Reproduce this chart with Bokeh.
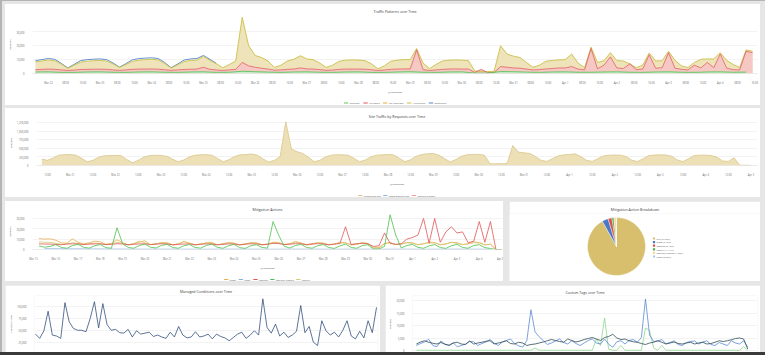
import numpy as np
from bokeh.plotting import figure
from bokeh.layouts import column, row
from bokeh.models import FixedTicker, NumeralTickFormatter, Range1d, Spacer, ColumnDataSource
from bokeh.core.properties import value
from bokeh.embed import file_html
from bokeh.resources import INLINE

FONT = "Open Sans"

# ---------------- Traffic Patterns over Time (hours from Mar 22 00:00) ----------------
traffic_start, traffic_step = -6, 3
traffic_total_k = [8.4, 9.0,
    9.8, 9.2, 6.8, 3.8, 6.0, 8.2, 8.9, 9.2,
    9.4, 9.0, 7.0, 4.4, 6.5, 8.8, 9.6, 10.0,
    10.3, 9.8, 7.2, 4.0, 6.2, 8.6, 9.4, 9.6,
    12.3, 9.5, 7.0, 4.1, 6.5, 9.0, 40.5, 20.0,
    13.0, 11.5, 9.0, 4.4, 6.0, 9.0, 10.2, 12.8,
    10.5, 10.0, 7.5, 4.4, 6.0, 8.8, 9.6, 9.8,
    9.7, 9.3, 7.0, 3.4, 5.5, 8.8, 9.6, 10.0,
    10.0, 18.0, 7.5, 3.6, 6.5, 9.0, 9.6, 9.8,
    9.6, 9.4, 1.8, 1.5, 1.4, 1.6, 20.0, 14.0,
    12.5, 11.5, 8.0, 4.5, 6.0, 8.8, 9.4, 9.8,
    10.0, 14.0, 7.5, 4.2, 19.0, 8.0, 9.2, 15.0,
    9.3, 9.0, 7.0, 4.2, 6.0, 14.8, 9.0, 9.2,
    16.0, 9.5, 5.5, 4.3, 8.0, 10.2, 10.5, 10.5,
    15.0, 9.5, 6.5, 4.3, 17.0, 16.0]
traffic_mitigated_k = [2.8, 3.0,
    3.2, 3.0, 2.6, 2.2, 2.5, 2.9, 3.0, 3.1,
    3.1, 3.0, 2.6, 2.3, 2.6, 3.0, 3.2, 3.2,
    3.3, 3.1, 2.7, 2.3, 2.6, 2.9, 3.1, 3.2,
    4.5, 3.0, 2.6, 2.2, 2.6, 3.0, 8.0, 5.5,
    4.5, 3.8, 3.2, 2.4, 2.6, 3.0, 3.2, 4.0,
    3.3, 3.2, 2.8, 2.3, 2.5, 3.0, 3.2, 3.2,
    3.2, 3.1, 2.7, 2.2, 2.5, 3.0, 3.2, 3.3,
    3.3, 17.0, 2.8, 2.2, 2.6, 3.0, 3.2, 3.3,
    3.2, 3.2, 0.8, 3.0, 0.7, 0.8, 5.0, 4.5,
    4.0, 3.8, 3.2, 2.6, 2.8, 3.3, 3.6, 4.0,
    4.0, 5.0, 3.2, 2.6, 18.0, 3.4, 6.0, 12.0,
    4.0, 3.6, 7.0, 2.8, 3.2, 13.5, 3.8, 4.2,
    15.0, 3.8, 3.0, 2.6, 6.0, 4.0, 8.0, 4.2,
    14.0, 3.8, 2.8, 2.6, 16.0, 15.0]
traffic_excellent_step = 6
traffic_excellent_k = [1.1,
    1.2, 0.8, 0.8, 1.1,  1.2, 0.9, 0.8, 1.1,  1.2, 0.9, 0.8, 1.1,
    1.2, 0.8, 0.9, 1.6,  1.3, 1.0, 0.8, 1.1,  1.2, 0.9, 0.8, 1.1,
    1.2, 0.8, 0.8, 1.1,  1.3, 0.9, 0.8, 1.1,  1.2, 0.3, 0.3, 1.4,
    1.3, 1.0, 0.8, 1.1,  1.2, 0.9, 0.9, 1.1,  1.2, 0.9, 0.8, 1.1,
    1.2, 0.9, 0.8, 1.1,  1.2, 0.9, 1.0]
traffic_suspicious_k = [9.3, 10.0, 10.8, 10.2, 7.3, 4.0, 6.6, 9.3, 10.0, 10.3,
    10.5, 10.0, 7.6, 4.6, 7.1, 9.9, 10.7, 11.1, 11.3, 10.8, 7.9, 4.2, 6.8,
    9.7, 10.5, 10.8, 13.0, 10.2, 7.3]
traffic_days = ["Mar 22", "Mar 23", "Mar 24", "Mar 25", "Mar 26", "Mar 27", "Mar 28",
                "Mar 29", "Mar 30", "Mar 31", "Apr 1", "Apr 2", "Apr 3", "Apr 4"]
traffic_hour_labels = ["08:00", "16:00"]
traffic_legend = ["Excellent", "Mitigated", "No Violations", "Whitelisted", "Suspicious"]
traffic_legend_colors = ["#5cc45c", "#e0505a", "#f0a830", "#c9bf48", "#4f86c6"]

# ---------------- Site Traffic by Requests (hours from Mar 21 00:00) ----------------
site_start, site_step = -15, 3
site_requests_k = [190, 150, 220, 300, 315,
    320, 300, 210, 110, 150, 240, 285, 290,
    295, 285, 170, 80, 150, 245, 290, 300,
    290, 270, 190, 110, 160, 250, 300, 310,
    315, 300, 200, 110, 170, 265, 310, 320,
    335, 300, 190, 100, 150, 260, 1270, 480,
    400, 350, 240, 110, 150, 250, 300, 315,
    310, 300, 210, 110, 160, 255, 300, 310,
    320, 310, 210, 110, 170, 270, 320, 345,
    350, 300, 200, 105, 175, 270, 315, 320,
    325, 300, 50, 50, 52, 55, 580, 390,
    370, 350, 260, 150, 120, 200, 280, 310,
    320, 340, 260, 150, 120, 200, 280, 300,
    305, 300, 260, 150, 115, 200, 290, 305,
    310, 305, 270, 160, 115, 200, 290, 300,
    300, 290, 240, 130, 120, 225, 8, 6,
    6]
site_days = ["Mar 21", "Mar 22", "Mar 23", "Mar 24", "Mar 25", "Mar 26", "Mar 27", "Mar 28",
             "Mar 29", "Mar 30", "Mar 31", "Apr 1", "Apr 2", "Apr 3", "Apr 4", "Apr 5"]
site_legend = ["Production TRC", "Tools Blocked Dev", "Testing in Stage"]
site_legend_colors = ["#d8c78c", "#8fb6e6", "#f09a9a"]

# ---------------- Mitigation Actions (hours from Mar 15 00:00) ----------------
mit_start, mit_step = 6, 6
mit_captcha_k = [5.5, 5.3, 5.2,
    5.0, 4.6, 5.2, 5.5,  5.4, 4.8, 5.2, 5.4,  5.5, 4.8, 5.0, 5.6,  5.4, 4.6, 5.0, 5.4,
    5.5, 4.7, 5.2, 5.5,  5.3, 4.6, 5.0, 5.3,  5.4, 4.5, 5.1, 5.4,  5.2, 4.6, 5.0, 5.4,
    5.3, 4.5, 5.2, 5.5,  5.4, 4.6, 5.0, 6.0,  5.8, 4.8, 5.2, 5.6,  5.5, 4.7, 5.4, 5.6,
    5.4, 4.6, 5.2, 5.8,  22.0, 4.8, 5.5, 6.0,  5.5, 3.0, 3.5, 16.0,  6.0, 5.0, 5.5, 10.0,
    11.6, 14.0, 30.0, 6.0,  30.0, 7.0, 17.0, 22.0,  16.0, 17.0, 6.5, 8.0,  27.0, 7.0, 27.0, 0.0,
    0.0]
mit_captcha_cleared_k = [3.5, 2.2, 3.0,
    4.8, 2.0, 1.2, 3.8,  5.0, 2.2, 1.3, 3.6,  4.8, 1.8, 1.2, 21.0,  5.5, 2.0, 1.2, 3.8,
    5.2, 2.2, 1.4, 4.0,  5.0, 1.9, 1.2, 3.6,  4.8, 2.0, 1.3, 3.8,  5.2, 2.1, 1.2, 3.5,
    5.0, 1.8, 1.1, 3.6,  4.6, 2.0, 1.3, 27.0,  14.0, 3.0, 1.4, 3.8,  5.0, 2.0, 1.2, 3.6,
    4.8, 1.9, 1.1, 3.5,  5.2, 2.0, 1.2, 3.8,  4.6, 0.5, 0.5, 3.0,  33.6, 14.0, 1.5, 3.8,
    5.0, 2.0, 1.2, 3.5,  4.8, 1.9, 1.1, 3.6,  5.0, 2.0, 1.2, 3.8,  4.6, 1.8, 1.0, 0.0,
    0.0]
mit_allow_k = [10.6, 10.0, 10.3,
    9.0, 6.5, 6.0, 10.2,  7.0, 5.5, 6.5, 8.0,  7.5, 5.0, 6.0, 9.5,  6.5, 4.5, 5.5, 7.0,
    8.5, 4.8, 5.2, 6.8,  6.5, 4.4, 5.0, 7.5,  6.2, 4.5, 5.0, 6.5,  6.8, 4.6, 5.2, 7.0,
    6.0, 4.4, 5.0, 6.6,  6.5, 4.5, 5.0, 7.0,  6.8, 4.6, 5.2, 7.8,  6.4, 4.4, 5.0, 6.6,
    6.2, 4.5, 5.1, 7.0,  6.6, 4.4, 5.0, 6.5,  6.0, 1.5, 1.5, 5.5,  6.8, 4.8, 5.2, 6.8,
    6.5, 4.6, 5.4, 7.2,  6.8, 4.5, 5.2, 7.0,  6.6, 4.8, 5.5, 7.4,  6.8, 4.6, 5.0, 0.0,
    0.0]
mit_identity_k = [7.5, 7.0, 6.8,
    6.0, 5.0, 5.5, 6.5,  6.0, 4.8, 5.6, 6.2,  5.8, 4.6, 5.4, 6.8,  6.2, 4.5, 5.8, 8.2,
    6.5, 4.8, 5.6, 6.2,  5.9, 4.6, 5.5, 8.0,  6.0, 4.7, 5.4, 6.2,  5.8, 4.5, 5.6, 6.0,
    6.2, 4.6, 5.5, 6.4,  6.0, 4.8, 5.3, 6.2,  6.2, 4.8, 5.6, 7.0,  5.8, 4.5, 5.5, 6.6,
    6.0, 4.6, 5.4, 6.2,  6.2, 4.7, 5.6, 6.4,  5.5, 2.0, 2.0, 6.0,  6.4, 4.8, 5.5, 6.5,
    6.0, 4.6, 5.8, 6.4,  6.2, 4.8, 5.6, 6.8,  6.0, 4.6, 5.5, 6.5,  6.2, 4.5, 5.2, 0.0,
    0.0]
mit_block_start, mit_block_step = 12, 24
mit_block_k = [0.8, 0.6, 0.5, 0.4, 0.3, 0.3, 0.3, 0.2, 0.3, 0.3, 0.2, 0.3, 0.3, 0.2,
               0.3, 0.2, 0.3, 0.2, 0.3, 0.3, 0.2]
mit_days = ["Mar 15", "Mar 16", "Mar 17", "Mar 18", "Mar 19", "Mar 20", "Mar 21", "Mar 22",
            "Mar 23", "Mar 24", "Mar 25", "Mar 26", "Mar 27", "Mar 28", "Mar 29", "Mar 30",
            "Mar 31", "Apr 1", "Apr 2", "Apr 3", "Apr 4", "Apr 5"]
mit_legend = ["allow", "block", "captcha", "captcha_cleared", "identity"]
mit_colors = ["#e8ad4e", "#86aee4", "#e05656", "#4cc04c", "#d8c872"]

# ---------------- Mitigation Action Breakdown (pie) ----------------
pie_labels = ["n/a (91.87%)", "allow (3.42%)", "captcha (2.15%)", "identity (1.11%)",
              "captcha_cleared (1.38%)", "block (0.07%)"]
pie_values = [91.87, 3.42, 2.15, 1.11, 1.38, 0.07]
pie_colors = ["#d8bf6e", "#4a78c6", "#d9534f", "#4cae4c", "#f2d89c", "#a9c9ec"]

# ---------------- Managed Conditions over Time (hours from Mar 15 00:00) ----------------
managed_start, managed_step = 6, 6
managed_k = [42, 33, 49, 90, 40, 38, 33, 108, 68, 54,
    50, 50, 47, 75, 110, 55, 106, 62, 50, 52,
    45, 44, 52, 36, 49, 42, 44, 46, 37, 40,
    36, 33, 46, 36, 58, 40, 34, 36, 47, 36,
    38, 42, 32, 42, 37, 34, 28, 35, 42, 46,
    33, 40, 49, 40, 116, 56, 44, 63, 38, 46,
    35, 40, 48, 102, 45, 58, 25, 18, 70, 49,
    40, 46, 36, 50, 70, 38, 32, 48, 34, 70,
    45, 98]

# ---------------- Custom Tags over Time (hours from Mar 15 00:00) ----------------
tags_start, tags_step = 6, 6
tags_blue_k = [2.0, 2.8, 3.4, 4.5, 2.0, 1.5, 3.8, 2.5, 2.2, 3.1,
    1.5, 2.0, 2.6, 3.6, 3.5, 2.0, 2.8, 3.4, 4.4, 3.0,
    2.0, 3.4, 4.0, 4.6, 2.8, 1.8, 1.4, 4.0, 16.3, 7.5,
    5.5, 4.0, 2.4, 3.0, 3.8, 4.6, 3.2, 2.6, 3.9, 2.8,
    2.0, 3.0, 4.0, 4.6, 3.0, 2.6, 4.6, 2.5, 1.3, 3.5,
    3.9, 2.6, 4.0, 4.4, 3.3, 5.2, 20.6, 6.2, 3.6, 3.8,
    4.4, 2.7, 3.2, 3.9, 2.4, 2.0, 3.2, 3.6, 3.8, 2.6,
    3.4, 3.9, 2.4, 2.0, 3.2, 2.6, 2.0, 3.9, 3.0, 2.6,
    3.9, 1.3]
tags_dark_k = [2.6, 3.4, 3.9, 3.3, 2.9, 2.6, 3.2, 2.5, 2.0, 3.0,
    3.3, 2.6, 2.4, 3.8, 2.6, 3.0, 3.3, 3.7, 3.9, 2.6,
    3.0, 3.4, 3.9, 2.8, 2.6, 3.3, 3.0, 2.0, 2.4, 2.6,
    3.0, 3.4, 3.9, 4.4, 4.0, 3.6, 3.3, 4.6, 4.0, 3.4,
    3.8, 4.4, 4.8, 5.2, 4.6, 4.0, 5.2, 5.6, 6.5, 5.0,
    4.4, 4.6, 3.9, 3.5, 3.3, 2.8, 2.4, 3.0, 3.3, 3.9,
    3.3, 2.6, 3.0, 3.4, 2.8, 2.6, 3.0, 3.3, 2.6, 3.0,
    3.3, 2.6, 2.8, 3.3, 3.9, 3.6, 3.9, 4.3, 4.8, 5.0,
    4.6, 0.6]
tags_green_k = [0.1, 0.1, 0.1, 0.1, 0.1, 0.1, 0.1, 0.1, 0.1, 0.1,
    0.1, 0.1, 0.1, 0.1, 0.1, 0.1, 0.1, 0.1, 0.1, 0.1,
    0.1, 0.1, 0.1, 0.1, 0.1, 0.1, 0.1, 0.1, 0.1, 1.0,
    0.1, 0.1, 0.1, 0.1, 0.1, 0.1, 0.1, 0.1, 0.1, 0.1,
    0.1, 0.1, 0.1, 0.1, 4.6, 2.0, 13.0, 0.5, 0.1, 0.1,
    2.0, 0.1, 0.1, 0.1, 0.1, 0.1, 9.0, 8.0, 1.0, 0.1,
    2.0, 0.1, 0.1, 0.1, 0.1, 0.1, 0.1, 0.1, 0.1, 0.1,
    0.1, 0.1, 0.1, 0.1, 0.1, 0.1, 0.1, 0.1, 0.1, 0.1,
    1.5, 0.1]


def series_x(start, step, vals):
    return start + step * np.arange(len(vals))


def kilo(vals):
    return np.array(vals, dtype=float) * 1000


def base_fig(w, h, xr, yr, title, left, right, top, bottom, standoff=3):
    p = figure(width=w, height=h, x_range=Range1d(*xr), y_range=Range1d(*yr),
               output_backend="svg", toolbar_location=None, title=title,
               min_border_left=left, min_border_right=right,
               min_border_top=top, min_border_bottom=bottom)
    p.background_fill_color = "white"
    p.border_fill_color = "white"
    p.outline_line_color = None
    p.title.align = "center"
    p.title.text_font = FONT
    p.title.text_font_size = "3.6px"
    p.title.text_font_style = "normal"
    p.title.text_color = "#3a3a3a"
    p.title.standoff = standoff
    p.xgrid.grid_line_color = None
    p.ygrid.grid_line_color = "#ebebeb"
    p.ygrid.grid_line_width = 0.6
    for ax in p.axis:
        ax.major_label_text_font = FONT
        ax.major_label_text_font_size = "2.6px"
        ax.major_label_text_color = "#707070"
        ax.major_tick_line_color = None
        ax.minor_tick_line_color = None
        ax.major_label_standoff = 2
        ax.axis_label_text_font = FONT
        ax.axis_label_text_font_size = "2.4px"
        ax.axis_label_text_font_style = "normal"
        ax.axis_label_text_color = "#555555"
        ax.axis_label_standoff = 2
    p.yaxis.axis_line_color = None
    p.xaxis.axis_line_color = "#dddddd"
    p.xaxis.axis_line_width = 0.6
    return p


def blank_fig(w, h):
    s = figure(width=w, height=h, x_range=Range1d(0, w), y_range=Range1d(0, h),
               output_backend="svg", toolbar_location=None, min_border=0)
    s.axis.visible = False
    s.grid.visible = False
    s.title.visible = False
    s.title.standoff = 0
    s.outline_line_color = None
    s.background_fill_color = "white"
    s.border_fill_color = "white"
    return s


def legend_strip(w, h, labels, colors, cy, fs=2.4, gap=3.5, glyph_w=4.5):
    """Horizontal legend drawn as line marks + texts, centred in a strip figure."""
    s = blank_fig(w, h)
    widths = [glyph_w + 1.5 + len(t) * 0.5 * fs for t in labels]
    total = sum(widths) + gap * (len(labels) - 1)
    xs, x = [], w / 2 - total / 2
    for wd in widths:
        xs.append(x)
        x += wd + gap
    xs = np.array(xs)
    s.segment(x0=xs, y0=cy, x1=xs + glyph_w, y1=cy, line_color=colors, line_width=1.0)
    s.text(x=xs + glyph_w + 1.5, y=cy, text=labels, text_font=value(FONT),
           text_font_size=value(f"{fs}px"), text_color="#555555", text_baseline="middle")
    return s


# ======== Panel 1: Traffic Patterns ========
OLIVE, TAN = "#c9bf48", "#efe3b9"
RED, PINK = "#e0505a", "#f5c8c3"
GREEN, BLUE = "#5cc45c", "#4f86c6"
p1 = base_fig(755, 92, (-7.38, 329.3), (0, 41800), "Traffic Patterns over Time", 22, 3, 11, 11, 4)
tx = series_x(traffic_start, traffic_step, traffic_total_k)
gx = series_x(traffic_start, traffic_excellent_step, traffic_excellent_k)
bx = series_x(traffic_start, traffic_step, traffic_suspicious_k)
p1.varea(x=tx, y1=0, y2=kilo(traffic_total_k), fill_color=TAN)
p1.varea(x=tx, y1=0, y2=kilo(traffic_mitigated_k), fill_color=PINK)
p1.varea(x=gx, y1=0, y2=kilo(traffic_excellent_k), fill_color="#c8ecc8")
p1.line(bx, kilo(traffic_suspicious_k), color=BLUE, line_width=0.9)
p1.line(tx, kilo(traffic_total_k), color=OLIVE, line_width=0.9)
p1.line(tx, kilo(traffic_mitigated_k), color=RED, line_width=0.7)
p1.line(gx, kilo(traffic_excellent_k), color=GREEN, line_width=0.9)
t_ticks, t_labels = [-8], {-8: traffic_hour_labels[1]}
for d, name in enumerate(traffic_days):
    for k, lab in enumerate([name] + traffic_hour_labels):
        t_ticks.append(24 * d + 8 * k)
        t_labels[24 * d + 8 * k] = lab
p1.xaxis.ticker = FixedTicker(ticks=t_ticks)
p1.xaxis.major_label_overrides = t_labels
p1.xaxis.axis_label = "@timestamp"
p1.yaxis.ticker = FixedTicker(ticks=[0, 10000, 20000, 30000])
p1.yaxis.formatter = NumeralTickFormatter(format="0,0")
p1.yaxis.axis_label = "Requests"
s1 = legend_strip(755, 9, traffic_legend, traffic_legend_colors, 5.5)

# ======== Panel 2: Site Traffic ========
p2 = base_fig(755, 80, (-17.8, 363.4), (0, 1310000), "Site Traffic by Requests over Time", 23, 3, 12, 10, 4)
sx = series_x(site_start, site_step, site_requests_k)
p2.varea(x=sx, y1=0, y2=kilo(site_requests_k), fill_color="#ede0b6")
p2.line(sx, kilo(site_requests_k), color="#d8c78c", line_width=0.8)
s_ticks, s_labels = [-12], {-12: "12:00"}
for d, name in enumerate(site_days):
    s_ticks.append(24 * d)
    s_labels[24 * d] = name
    if d < len(site_days) - 1:
        s_ticks.append(24 * d + 12)
        s_labels[24 * d + 12] = "12:00"
p2.xaxis.ticker = FixedTicker(ticks=s_ticks)
p2.xaxis.major_label_overrides = s_labels
p2.xaxis.axis_label = "@timestamp"
p2.yaxis.ticker = FixedTicker(ticks=[0, 250000, 500000, 750000, 1000000, 1250000])
p2.yaxis.formatter = NumeralTickFormatter(format="0,0")
p2.yaxis.axis_label = "Requests"
s2 = legend_strip(755, 9, site_legend, site_legend_colors, 5)

# ======== Panel 3: Mitigation Actions ========
p3 = base_fig(498, 71, (-1, 505), (0, 34800), "Mitigation Actions", 14, 1, 12, 12, 3)
mx = series_x(mit_start, mit_step, mit_allow_k)
blx = series_x(mit_block_start, mit_block_step, mit_block_k)
p3.line(blx, kilo(mit_block_k), color=mit_colors[1], line_width=0.8)
p3.line(mx, kilo(mit_allow_k), color=mit_colors[0], line_width=0.8)
p3.line(mx, kilo(mit_identity_k), color=mit_colors[4], line_width=0.8)
p3.line(mx, kilo(mit_captcha_k), color=mit_colors[2], line_width=0.8)
p3.line(mx, kilo(mit_captcha_cleared_k), color=mit_colors[3], line_width=0.8)
p3.xaxis.ticker = FixedTicker(ticks=[24 * d for d in range(len(mit_days))])
p3.xaxis.major_label_overrides = {24 * d: n for d, n in enumerate(mit_days)}
p3.xaxis.axis_label = "@timestamp"
p3.yaxis.ticker = FixedTicker(ticks=[0, 10000, 20000, 30000])
p3.yaxis.formatter = NumeralTickFormatter(format="0,0")
p3.yaxis.axis_label = "Requests"
s3 = legend_strip(498, 9, mit_legend, mit_colors, 5)

# ======== Panel 4: Pie ========
p4 = base_fig(251, 80, (0, 251), (0, 68), "Mitigation Action Breakdown", 0, 0, 12, 0, 3)
p4.axis.visible = False
p4.grid.grid_line_color = None
frac = np.array(pie_values) / np.sum(pie_values)
cum = np.concatenate([[0], np.cumsum(frac)])
pie_src = ColumnDataSource(dict(start=np.pi / 2 - 2 * np.pi * cum[:-1],
                                end=np.pi / 2 - 2 * np.pi * cum[1:],
                                color=pie_colors))
p4.wedge(x=107, y=35, radius=29, start_angle="start", end_angle="end",
         direction="clock", fill_color="color", line_color="white",
         line_width=0.4, source=pie_src)
leg_y = 43 - 3.6 * np.arange(len(pie_labels))
p4.rect(x=144.5, y=leg_y, width=2.2, height=2.2, fill_color=pie_colors, line_color=None)
p4.text(x=147, y=leg_y, text=pie_labels, text_font=value(FONT), text_font_size=value("2.4px"),
        text_color="#555555", text_baseline="middle")

# ======== Panel 5: Managed Conditions ========
p5 = base_fig(375, 67, (4.6, 493.4), (3400, 123000), "Managed Conditions over Time", 22, 3, 10, 0, 3)
p5.xaxis.visible = False
p5.line(series_x(managed_start, managed_step, managed_k), kilo(managed_k),
        color="#34507e", line_width=0.8)
p5.yaxis.ticker = FixedTicker(ticks=[25000, 50000, 75000, 100000])
p5.yaxis.formatter = NumeralTickFormatter(format="0,0")
p5.yaxis.axis_label = "Condition Count"

# ======== Panel 6: Custom Tags ========
p6 = base_fig(375, 67, (0.3, 506.3), (-800, 22000), "Custom Tags over Time", 18, 3, 9, 0, 2)
p6.xaxis.visible = False
ctx = series_x(tags_start, tags_step, tags_blue_k)
p6.line(ctx, kilo(tags_green_k), color="#8fd68f", line_width=0.8)
p6.line(ctx, kilo(tags_blue_k), color="#5a8ad6", line_width=0.8)
p6.line(ctx, kilo(tags_dark_k), color="#2f4d55", line_width=0.8)
p6.yaxis.ticker = FixedTicker(ticks=[0, 5000, 10000, 15000, 20000])
p6.yaxis.formatter = NumeralTickFormatter(format="0,0")
p6.yaxis.axis_label = "Requests"

WHITE = {"background-color": "white"}
layout = column(
    Spacer(height=4, width=765),
    row(Spacer(width=5), column(p1, s1, styles=WHITE), Spacer(width=5)),
    Spacer(height=3, width=765),
    row(Spacer(width=5), column(p2, s2, styles=WHITE), Spacer(width=5)),
    Spacer(height=4, width=765),
    row(Spacer(width=5), column(p3, s3, styles=WHITE), Spacer(width=6), p4, Spacer(width=5)),
    Spacer(height=4, width=765),
    row(Spacer(width=5), p5, Spacer(width=5), p6, Spacer(width=5)),
    Spacer(height=3, width=765, styles={"background-color": "#3a3a3a"}),
    styles={"background-color": "#e6e6e6",
            "box-shadow": "inset 2px 1px 0 #b4b4b4"},
)

open("out.html", "w").write(file_html(layout, INLINE))
